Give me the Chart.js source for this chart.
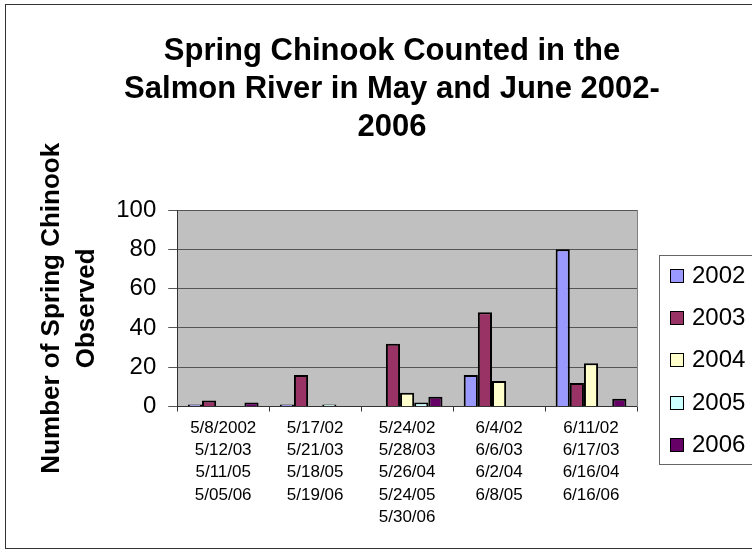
<!DOCTYPE html>
<html>
<head>
<meta charset="utf-8">
<script src="https://cdn.jsdelivr.net/npm/chart.js@4.4.1/dist/chart.umd.min.js"></script>
<style>
  html, body { margin: 0; padding: 0; background: #fff; }
  #wrap { width: 752px; height: 552px; }
</style>
</head>
<body>
<div id="wrap"><canvas id="out"></canvas></div>
<script>
// survey dates, one group per week (multi-line tick labels)
const dates = [
  ["5/8/2002", "5/12/03", "5/11/05", "5/05/06"],
  ["5/17/02", "5/21/03", "5/18/05", "5/19/06"],
  ["5/24/02", "5/28/03", "5/26/04", "5/24/05", "5/30/06"],
  ["6/4/02", "6/6/03", "6/2/04", "6/8/05"],
  ["6/11/02", "6/17/03", "6/16/04", "6/16/06"]
];
const years = ["2002", "2003", "2004", "2005", "2006"];
const counts2002 = [1, 1, 0, 16, 80];
const counts2003 = [3, 16, 32, 48, 12];
const counts2004 = [0, 0, 7, 13, 22];
const counts2005 = [0, 1, 2, 0, 0];
const counts2006 = [2, 0, 5, 0, 4];
const yMin = 0, yMax = 100, yStep = 20;

const colors = ["#9999FF", "#993366", "#FFFFCC", "#CCFFFF", "#660066"];
const font = "'Liberation Sans', Arial, sans-serif";

Chart.defaults.font.family = font;
Chart.defaults.color = "#000";

const series = [counts2002, counts2003, counts2004, counts2005, counts2006];

// grey plot area like the old excel charts
const plotBg = {
  id: "plotBg",
  beforeDraw(chart) {
    const {ctx, chartArea: a} = chart;
    ctx.save();
    ctx.fillStyle = "#fff";
    ctx.fillRect(0, 0, chart.width, chart.height);
    ctx.fillStyle = "#C0C0C0";
    ctx.fillRect(a.left, a.top, a.right - a.left, a.bottom - a.top);
    ctx.restore();
  }
};

// boxed legend on the right + frame round the chart
const boxLegend = {
  id: "boxLegend",
  afterDraw(chart) {
    const ctx = chart.ctx;
    ctx.save();
    ctx.lineWidth = 1;
    ctx.strokeStyle = "#333";
    ctx.strokeRect(5.5, 4.5, 770, 544);
    ctx.strokeStyle = "#666";
    ctx.strokeRect(659.5, 255.5, 120, 209);
    ctx.font = "24px " + font;
    ctx.textBaseline = "middle";
    chart.data.datasets.forEach((ds, i) => {
      const y = Math.round(276 + i * 42.2);
      ctx.fillStyle = ds.backgroundColor;
      ctx.fillRect(670.5, y - 6.5, 13, 13);
      ctx.strokeStyle = "#000";
      ctx.strokeRect(670.5, y - 6.5, 13, 13);
      ctx.fillStyle = "#000";
      ctx.fillText(ds.label, 692, y);
    });
    ctx.restore();
  }
};

const chartConfig = {
  type: "bar",
  data: {
    labels: dates,
    datasets: years.map((y, i) => ({
      label: y,
      data: series[i],
      backgroundColor: colors[i],
      borderColor: "#000",
      borderWidth: 2,
      categoryPercentage: 5 / 6.5,
      barPercentage: 1
    }))
  },
  options: {
    responsive: true,
    maintainAspectRatio: false,
    animation: false,
    layout: { padding: { left: 32, right: 0, top: 0, bottom: 18 } },
    plugins: {
      legend: { display: false },
      tooltip: { enabled: false },
      title: {
        display: true,
        text: ["Spring Chinook Counted in the", "Salmon River in May and June 2002-", "2006"],
        font: { size: 31, weight: "bold", lineHeight: 1.226 },
        color: "#000",
        padding: { top: 32, bottom: 64 }
      }
    },
    scales: {
      x: {
        grid: { display: true, drawOnChartArea: false, drawTicks: true, tickLength: 5, color: "#333", offset: true },
        border: { display: true, color: "#333" },
        ticks: { font: { size: 17, lineHeight: 1.3 }, padding: 6, maxRotation: 0, autoSkip: false }
      },
      y: {
        min: yMin,
        max: yMax,
        ticks: { stepSize: yStep, font: { size: 24 }, padding: 12 },
        grid: { color: "#555", tickLength: 9 },
        border: { display: true, color: "#333" },
        title: {
          display: true,
          text: ["Number of Spring Chinook", "Observed"],
          font: { size: 26, weight: "bold", lineHeight: 1.35 },
          padding: { top: 2, bottom: 0 }
        }
      },
      y2: {
        position: "right",
        min: yMin,
        max: yMax,
        grid: { display: false },
        ticks: { display: false },
        border: { display: true, color: "#808080" },
        afterFit(scale) { scale.width = 115; }
      }
    }
  },
  plugins: [plotBg, boxLegend]
};

window.chart = new Chart(document.getElementById("out").getContext("2d"), chartConfig);
</script>
</body>
</html>
